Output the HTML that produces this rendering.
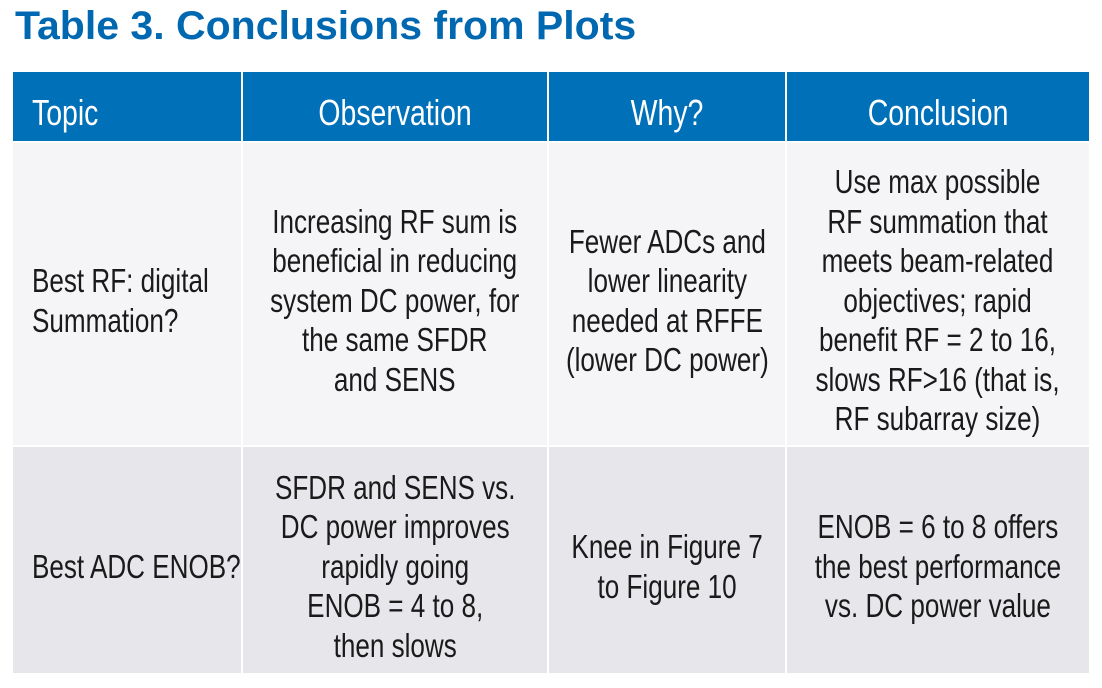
<!DOCTYPE html>
<html><head><meta charset="utf-8"><style>
body{margin:0;width:1102px;height:688px;background:#fff;position:relative;overflow:hidden;font-family:"Liberation Sans",sans-serif}
.t{position:absolute;left:15px;top:6px;font-weight:bold;font-size:40px;line-height:40px;color:#0068b0;white-space:nowrap;transform:scaleX(1.025);transform-origin:left}
.c{position:absolute;display:flex;align-items:center;justify-content:center;text-align:center;font-size:33px;line-height:39.5px;color:#1a1a1a;box-sizing:border-box;white-space:nowrap;padding-top:13px}
.c span{display:inline-block;transform:scaleX(0.79);transform-origin:center}
.h{background:#0070b8;color:#fff;font-size:36px;padding-top:12px}
.r1{background:#f5f5f7}.r2{background:#e7e7eb}
.l{justify-content:flex-start;text-align:left;padding-left:19px}
.l span{transform-origin:left}
</style></head><body>
<div class="t">Table 3. Conclusions from Plots</div>
<div class="c h l" style="left:13px;top:72px;width:228px;height:69px"><span>Topic</span></div>
<div class="c h" style="left:243px;top:72px;width:304px;height:69px"><span>Observation</span></div>
<div class="c h" style="left:549px;top:72px;width:236px;height:69px"><span>Why?</span></div>
<div class="c h" style="left:787px;top:72px;width:302px;height:69px"><span>Conclusion</span></div>

<div class="c r1 l" style="left:13px;top:143px;width:228px;height:302px"><span>Best RF: digital<br>Summation?</span></div>
<div class="c r1" style="left:243px;top:143px;width:304px;height:302px"><span>Increasing RF sum is<br>beneficial in reducing<br>system DC power, for<br>the same SFDR<br>and SENS</span></div>
<div class="c r1" style="left:549px;top:143px;width:236px;height:302px"><span>Fewer ADCs and<br>lower linearity<br>needed at RFFE<br>(lower DC power)</span></div>
<div class="c r1" style="left:787px;top:143px;width:302px;height:302px"><span>Use max possible<br>RF summation that<br>meets beam-related<br>objectives; rapid<br>benefit RF = 2 to 16,<br>slows RF&gt;16 (that is,<br>RF subarray size)</span></div>

<div class="c r2 l" style="left:13px;top:447px;width:228px;height:226px"><span>Best ADC ENOB?</span></div>
<div class="c r2" style="left:243px;top:447px;width:304px;height:226px"><span>SFDR and SENS vs.<br>DC power improves<br>rapidly going<br>ENOB = 4 to 8,<br>then slows</span></div>
<div class="c r2" style="left:549px;top:447px;width:236px;height:226px"><span>Knee in Figure 7<br>to Figure 10</span></div>
<div class="c r2" style="left:787px;top:447px;width:302px;height:226px"><span>ENOB = 6 to 8 offers<br>the best performance<br>vs. DC power value</span></div>
</body></html>
